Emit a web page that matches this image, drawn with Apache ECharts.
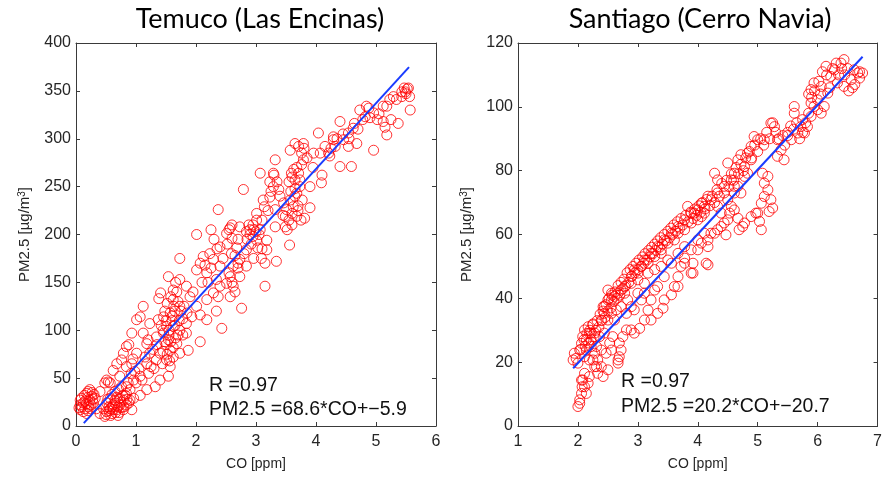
<!DOCTYPE html>
<html><head><meta charset="utf-8">
<script src="https://cdn.jsdelivr.net/npm/echarts@6/dist/echarts.min.js"></script>
<style>html,body{margin:0;padding:0;background:#fff}#c{width:885px;height:480px}</style>
</head><body><div id="c"></div>
<script>
// ---- Data ----
const titles = ['Temuco (Las Encinas)', 'Santiago (Cerro Navia)'];
const xName = 'CO [ppm]';
const yName = 'PM2.5 [µg/m{sup|3}]';
const annoR = ['R =0.97', 'R =0.97'];
const annoEq = ['PM2.5 =68.6*CO+\u22125.9', 'PM2.5 =20.2*CO+\u221220.7'];

const temucoX = [0, 6, 1];     // min, max, interval
const temucoY = [0, 400, 50];
const santiagoX = [1, 7, 1];
const santiagoY = [0, 120, 20];

const temucoFit = [[0.13, 3.0], [5.55, 374.8]];
const santiagoFit = [[1.92, 18.1], [6.75, 115.7]];

const temucoPoints = [
[2.01,200],[2.37,226],[2.79,247],[1.73,175],[2.76,123],[2.43,102],[2.07,88],[3.15,146],[3.34,172],[3.56,189],
[4.04,306],[4.4,271],[4.59,271],[4.09,254],[4.96,288],[5.18,304],[5.37,316],[5.57,330],[5.54,353],[5.43,349],
[5.34,341],[5.18,334],[4.73,330],[4.84,334],[4.96,327],[5.02,320],[5.12,318],[5.12,334],[4.62,311],[4.54,306],
[4.4,318],[4.29,299],[4.21,285],[3.96,285],[3.71,292],[3.65,295],[3.79,295],[3.57,288],[3.32,278],[3.29,264],
[3.07,264],[3.23,255],[3.59,264],[3.71,264],[3.65,257],[3.73,250],[3.9,250],[3.68,243],[3.57,236],[3.77,236],
[3.51,226],[3.62,229],[3.49,219],[3.68,219],[3.81,217],[3.9,228],[3.46,233],[3.32,226],[3.32,208],[3.49,208],
[3.07,205],[2.96,205],[2.84,203],[3.01,194],[3.18,194],[3.03,186],[2.84,184],[2.96,175],[2.84,167],[3.09,175],
[3.18,184],[3.01,222],[3.12,236],[3.14,229],[3.01,215],[2.73,208],[2.57,207],[2.51,201],[2.68,186],[2.59,180],
[2.73,174],[2.62,167],[2.57,156],[2.51,149],[2.4,146],[2.29,139],[2.34,153],[2.18,160],[2.29,174],[2.07,170],
[2.01,163],[2.12,177],[2.4,187],[2.23,180],[2.4,167],[2.62,146],[2.73,156],[2.57,135],[2.37,135],[2.18,132],
[2.01,125],[2.34,120],[2.07,116],[2.18,111],[1.84,107],[1.84,97],[1.87,79],[1.93,114],[1.73,153],[1.84,146],
[1.9,135],[1.62,142],[1.54,156],[1.41,139],[1.38,133],[1.52,128],[1.62,132],[1.73,125],[1.57,118],[1.46,114],
[1.37,111],[1.51,104],[1.62,104],[1.73,100],[1.46,97],[1.34,93],[1.54,90],[1.68,86],[1.57,79],[1.4,76],
[1.62,72],[1.51,69],[1.73,76],[1.34,69],[1.18,65],[1.23,76],[1.57,62],[1.54,52],[1.4,48],[1.32,41],
[1.18,38],[1.07,32],[0.96,29],[1.21,55],[1.07,52],[0.96,48],[0.84,41],[1.01,76],[1.18,86],[1.12,97],
[1.01,111],[1.07,114],[1.12,125],[1.23,107],[0.93,97],[0.84,83],[0.79,76],[0.93,65],[0.68,65],[0.62,58],
[0.51,48],[0.57,45],[0.73,52],[0.76,69],[0.84,62],[0.71,38],[0.84,34],[0.4,36],
[0.07,17],[0.12,24],[0.09,29],[0.18,34],[0.23,38],[0.26,31],[0.29,24],[0.21,20],[0.12,15],[0.07,22],
[0.15,18],[0.23,27],[0.32,29],[0.34,18],[0.18,13],[0.07,27],[0.2,36],[0.27,35],[0.14,32],
[0.48,10],[0.51,15],[0.57,18],[0.62,22],[0.68,17],[0.73,22],[0.79,27],[0.73,29],[0.65,27],[0.6,13],
[0.7,11],[0.79,17],[0.84,22],[0.82,32],[0.9,38],[0.87,45],[0.51,24],[0.46,18],[0.57,29],[0.65,36],
[0.76,41],[0.9,27],[0.93,17],[0.4,13],[0.54,46],[0.48,45],[0.55,20],[0.66,14],[0.75,19],[0.6,33],
[4.29,302],[4.46,299],[4.54,292],[4.68,295],[4.15,292],[4.07,285],[4.23,282],[4.32,292],[4.82,323],[4.9,322],
[4.64,316],[5.29,344],[5.47,353],[5.49,349],[5.43,344],[5.23,341],[3.76,285],[3.79,278],[3.76,273],[3.68,270],
[3.73,257],[3.23,239],[3.38,247],[3.29,250],[1.6,110],[1.65,120],[1.7,95],[1.5,85],[1.45,78],[1.66,92],
[1.78,112],[1.55,100],[1.63,125],[1.48,120],[1.58,88],[2.9,200],[2.95,210],[2.55,205],[2.6,196],[3.6,222],
[3.65,248],[3.7,230],[2.65,178],[2.7,165],[2.2,150],[2.25,165],[1.95,140],[1.3,60],[1.1,48],[0.98,57],
[1.45,100],[1.5,110],[1.55,95],[1.6,115],[1.65,105],[1.7,130],[1.75,120],[1.58,135],[1.68,140],[1.48,88],
[1.52,75],[1.62,82],[1.72,110],[1.78,95],[1.42,105],[1.66,150],[1.8,125],[1.85,118],[1.56,68],[1.44,65],
[1.28,80],[1.2,90],[1.15,72],[1.25,62],[1.35,85],[1.05,60],[0.95,70],[0.88,85],[0.92,55],[1.0,45],
[2.85,195],[2.9,205],[2.95,198],[3.0,203],[2.88,210],[2.92,190],[2.8,180],[2.7,195],[2.6,210],[2.52,190],
[2.55,160],[2.6,150],[2.65,140],[2.7,170],[2.45,175],[2.35,185],[2.3,195],[2.25,205],[2.15,168],[2.1,150],
[3.55,255],[3.6,260],[3.63,268],[3.58,245],[3.65,240],[3.7,225],[3.75,215],[3.6,210],[3.55,215],[3.52,205],
[3.45,220],[3.4,240],[3.35,255],[3.3,262],[3.25,245],[3.2,225],[3.1,215],[3.05,200],[3.1,185],[3.15,170],
[0.1,20],[0.15,26],[0.2,30],[0.25,22],[0.3,33],[0.05,19],[0.2,16],[0.28,28],[0.17,23],[0.24,18],
[0.5,12],[0.55,16],[0.6,20],[0.65,24],[0.7,20],[0.75,25],[0.8,20],[0.85,28],[0.62,17],[0.72,14],
[0.78,32],[0.68,30],[0.53,28],[0.58,11],[0.88,24],
[3.8,290],[3.85,280],[3.95,270],[4.1,262],[4.25,290],[4.35,300],[4.45,305],[4.55,300],[4.7,310],[4.78,320],
[4.88,332],[5.05,326],[5.15,312],[5.25,320],[5.5,347],[5.52,352],[5.56,344]
];

const santiagoPoints = [
[2.0,6.1],[2.03,8.2],[2.06,10.2],[2.07,12.3],[2.08,14.4],[2.11,16.5],[2.06,14.4],[2.03,7.1],[2.11,12.3],[2.14,10.2],
[2.17,13.4],[2.19,15.5],[1.92,20.7],[1.94,22.8],[1.97,21.2],[2.03,23.8],[2.0,19.7],[2.06,25.9],[2.08,28.0],[2.11,30.1],
[2.17,31.1],[2.14,27.0],[2.19,29.1],[2.22,24.9],[2.25,20.7],[2.28,22.8],[2.31,18.6],[2.33,20.7],[2.39,23.8],[2.36,28.0],
[2.28,29.1],[2.25,31.7],[2.39,33.2],[2.44,35.3],[2.42,37.4],[2.5,39.5],[2.56,41.6],[2.61,40.6],[2.5,33.2],[2.44,29.1],
[2.53,26.0],[2.47,22.8],[2.39,18.6],[2.33,16.5],[2.42,15.5],[2.5,17.6],[2.56,23.8],[2.58,28.0],
[2.67,19.7],[2.69,21.7],[2.72,23.8],[2.69,26.0],[2.75,28.0],[2.67,20.7],
[2.81,30.1],[2.89,30.1],[2.94,29.1],[3.03,30.6],[3.11,33.2],[3.22,33.2],[3.17,36.3],[3.33,35.3],[3.42,36.9],[3.44,39.5],
[3.56,41.1],[3.61,43.7],[3.67,46.8],[3.72,50.0],[3.78,52.6],[3.89,47.9],[3.92,51.0],[4.0,55.2],[4.06,57.3],[4.14,51.0],
[4.17,58.3],[4.22,60.4],[4.33,61.5],[4.44,63.6],[4.47,59.9],[4.53,66.7],[4.61,67.7],[4.67,65.1],[4.69,61.5],[4.75,62.5],
[4.78,63.6],[4.89,65.6],[4.97,66.7],[5.03,64.1],[5.06,61.5],[5.0,66.7],[5.06,69.8],[5.11,71.9],[5.17,74.0],[5.22,70.9],
[5.25,68.3],[5.19,67.2],[5.11,76.1],[5.08,79.2],[5.17,78.2],
[2.56,39.5],[2.67,41.6],[2.78,43.7],[2.89,46.8],[2.94,48.9],[3.0,45.8],[3.06,50.0],[3.11,52.0],[3.22,54.1],[3.33,56.2],
[3.44,58.3],[3.56,60.4],[3.67,62.5],[3.78,64.6],[3.89,66.7],[4.0,67.7],[4.06,65.6],[4.11,68.8],[4.22,70.9],[4.33,73.0],
[4.44,75.1],[4.56,77.1],[4.61,79.2],[4.67,83.4],[4.72,85.0],[4.83,85.5],[4.89,87.6],[4.94,90.7],[5.0,89.7],[4.89,83.4],
[4.78,81.3],[5.11,89.7],[5.22,94.9],[5.28,93.8],[5.33,89.7],[5.39,86.5],[5.44,83.4],[5.33,84.5],[5.56,89.7],[5.67,91.8],
[5.61,98.0],[5.72,93.8],[5.78,91.8],[5.83,93.8],[5.89,97.0],[5.94,100.1],[6.0,102.2],[5.89,105.4],[5.94,107.5],[6.11,100.1],
[6.06,98.0],[6.17,104.3],[6.22,109.5],[6.28,111.6],[6.39,113.7],[6.44,114.8],[6.33,107.5],[6.44,106.4],[6.56,108.5],[6.67,110.6],
[6.75,110.6],[6.61,111.6],[6.31,113.7],[6.14,112.7],[6.06,106.4],[6.0,99.1],[5.89,101.2],
[3.83,68.8],[3.94,66.7],[4.0,64.6],[3.89,63.6],[3.78,61.5],[4.06,69.8],[4.11,66.7],[3.67,60.4],[3.61,58.3],[3.5,57.3],
[3.39,55.2],[3.28,53.1],[3.17,51.0],[3.0,47.9],[2.89,44.7],[2.78,41.6],[2.72,42.6],[2.83,39.5],[3.0,41.6],[2.94,36.4],
[3.11,44.7],[3.22,39.5],[3.33,43.7],[3.44,46.8],[3.56,51.0],[3.67,54.1],[3.78,56.2],[3.89,55.2],[4.0,58.3],[4.11,60.4],
[4.17,56.2],[4.28,60.4],[4.39,62.5],[4.5,64.6],[4.56,68.8],[4.39,66.7],[4.33,68.8],[4.5,70.9],[4.61,73.0],[4.67,75.1],
[4.72,73.0],[4.78,78.2],[4.83,79.2],[4.61,75.1],[4.5,82.4],[4.28,79.2],[4.33,77.1],[4.17,72.0],
[5.61,100.1],[4.17,50.5],[3.67,43.7],[3.92,47.9],[3.78,51.0],
[2.22,29.1],[2.31,24.9],[2.14,23.8],[2.11,21.7],[2.19,20.7],[2.28,18.6],
[2.5,42.6],[2.44,37.4],[2.56,35.3],[2.61,33.2],[2.64,36.4],[2.72,37.4],[2.81,35.3],[2.89,37.4],[3.06,39.5],[3.11,41.6],
[3.17,47.9],[3.28,49.0],[3.39,50.0],[3.5,52.0],[3.39,54.1],[3.28,42.6],
[5.45,88],[5.5,91],[5.75,96],[5.85,104],[6.2,106],[6.35,110],[6.5,112],[6.7,109],[6.62,107],[6.05,104],
[2.05,24],[2.1,27],[2.12,25],[2.15,29],[2.18,26],[2.2,30],[2.22,27],[2.25,32],[2.27,28],[2.3,30],
[2.32,33],[2.35,31],[2.37,35],[2.4,33],[2.42,36],[2.45,34],[2.47,38],[2.5,36],[2.52,40],[2.55,37],
[2.57,41],[2.6,39],[2.62,42],[2.65,40],[2.67,44],[2.7,41],[2.72,45],[2.75,43],[2.77,46],[2.8,44],
[2.82,48],[2.85,45],[2.87,49],[2.9,47],[2.92,50],[2.95,48],[2.97,51],[3.0,49],[3.02,52],[3.05,50],
[3.08,53],[3.1,51],[3.12,54],[3.15,52],[3.18,55],[3.2,53],[3.23,56],[3.25,54],[3.28,57],[3.3,55],
[3.33,58],[3.36,56],[3.38,59],[3.41,57],[3.44,60],[3.47,58],[3.5,61],[3.53,59],[3.55,62],[3.58,60],
[3.6,63],[3.63,61],[3.66,64],[3.7,62],[3.72,65],[3.75,63],[3.8,66],[3.84,64],[3.88,67],[3.92,65],
[3.95,68],[3.98,66],[4.02,69],[4.05,67],[4.08,70],[4.12,68],[4.15,71],[4.2,69],[4.24,72],[4.28,70],
[4.32,74],[4.36,72],[4.4,76],[4.44,73],[4.48,77],[4.52,75],[4.56,79],[4.6,77],[4.64,81],[4.68,79],
[4.72,82],[4.76,80],[4.8,84],[4.86,86],[4.9,84],[4.95,88],[5.0,86],[5.05,90],[5.1,88],[5.15,92],
[5.2,90],[5.25,95],[5.3,92],[5.35,90],[5.42,91],[5.5,92],[5.55,94],[5.6,93],[5.65,95],[5.7,90],
[5.75,92],[5.8,95],[5.85,98],[5.9,103],[5.95,105],[6.02,108],[6.08,111],[6.15,110],[6.25,112],[6.4,112],
[6.45,110],[6.52,105],[6.58,106],[6.7,111]
];

// ---- Chart ----
const grids = [
  {left: 76, top: 43, width: 360, height: 383},
  {left: 518, top: 43, width: 360, height: 383}
];
const axisColor = '#3a3a3a';
const font = 'Liberation Sans, Arial, sans-serif';

function xAxes(gi, r) {
  return [
    {type: 'value', gridIndex: gi, min: r[0], max: r[1], interval: r[2], position: 'bottom',
     name: xName, nameLocation: 'middle', nameGap: 31,
     nameTextStyle: {fontFamily: font, fontSize: 14, color: '#262626'},
     axisLine: {show: true, onZero: false, lineStyle: {color: axisColor, width: 1}},
     axisTick: {show: true, inside: true, length: 4, lineStyle: {color: axisColor}},
     axisLabel: {fontFamily: font, fontSize: 16, color: '#262626', margin: 8},
     splitLine: {show: false}},
    {type: 'value', gridIndex: gi, min: r[0], max: r[1], interval: r[2], position: 'top',
     axisLine: {show: true, onZero: false, lineStyle: {color: axisColor, width: 1}},
     axisTick: {show: true, inside: true, length: 4, lineStyle: {color: axisColor}},
     axisLabel: {show: false}, splitLine: {show: false}}
  ];
}
function yAxes(gi, r) {
  return [
    {type: 'value', gridIndex: gi, min: r[0], max: r[1], interval: r[2], position: 'left',
     name: yName, nameLocation: 'middle', nameGap: 43,
     nameTextStyle: {fontFamily: font, fontSize: 15, color: '#262626',
       rich: {sup: {fontFamily: font, fontSize: 10, color: '#262626', verticalAlign: 'top', padding: [0, 0, 6, 0]}}},
     axisLine: {show: true, onZero: false, lineStyle: {color: axisColor, width: 1}},
     axisTick: {show: true, inside: true, length: 4, lineStyle: {color: axisColor}},
     axisLabel: {fontFamily: font, fontSize: 16, color: '#262626', margin: 5},
     splitLine: {show: false}},
    {type: 'value', gridIndex: gi, min: r[0], max: r[1], interval: r[2], position: 'right',
     axisLine: {show: true, onZero: false, lineStyle: {color: axisColor, width: 1}},
     axisTick: {show: true, inside: true, length: 4, lineStyle: {color: axisColor}},
     axisLabel: {show: false}, splitLine: {show: false}}
  ];
}

const scatterStyle = {color: 'rgba(0,0,0,0)', borderColor: '#ff0000', borderWidth: 1};
const lineStyle = {color: '#1a3cff', width: 2};
const titleStyle = {fontFamily: 'Lato, Open Sans, sans-serif', fontSize: 27, fontWeight: 'normal', color: '#000'};
const annoFont = '19.5px Liberation Sans, Arial';

const option = {
  animation: false,
  backgroundColor: '#ffffff',
  title: [
    {text: titles[0], left: 255, top: 1, textAlign: 'center', textStyle: titleStyle},
    {text: titles[1], left: 695, top: 1, textAlign: 'center', textStyle: titleStyle}
  ],
  grid: grids,
  xAxis: [...xAxes(0, temucoX), ...xAxes(1, santiagoX)],
  yAxis: [...yAxes(0, temucoY), ...yAxes(1, santiagoY)],
  graphic: [
    {type: 'text', left: 209, top: 376, style: {text: annoR[0], font: annoFont, fill: '#111'}},
    {type: 'text', left: 209, top: 400, style: {text: annoEq[0], font: annoFont, fill: '#111'}},
    {type: 'text', left: 621, top: 372, style: {text: annoR[1], font: annoFont, fill: '#111'}},
    {type: 'text', left: 621, top: 397, style: {text: annoEq[1], font: annoFont, fill: '#111'}}
  ],
  series: [
    {type: 'scatter', xAxisIndex: 0, yAxisIndex: 0, data: temucoPoints, symbol: 'circle', symbolSize: 10,
     itemStyle: scatterStyle, z: 2},
    {type: 'line', xAxisIndex: 0, yAxisIndex: 0, data: temucoFit, symbol: 'none', lineStyle: lineStyle, z: 3},
    {type: 'scatter', xAxisIndex: 2, yAxisIndex: 2, data: santiagoPoints, symbol: 'circle', symbolSize: 10,
     itemStyle: scatterStyle, z: 2},
    {type: 'line', xAxisIndex: 2, yAxisIndex: 2, data: santiagoFit, symbol: 'none', lineStyle: lineStyle, z: 3}
  ]
};
const chart = echarts.init(document.getElementById('c'), null, {renderer: 'canvas'});
chart.setOption(option);
</script></body></html>
